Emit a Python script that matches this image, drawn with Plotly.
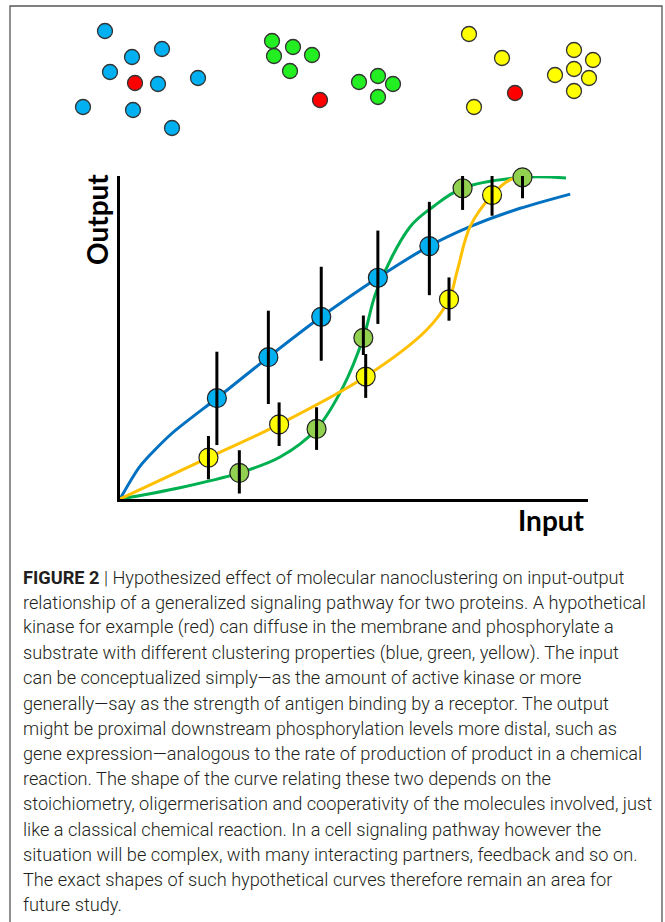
import plotly.graph_objects as go

W, H = 665, 922

# ---------------- data: measured points ----------------
blue_x = [2.07, 3.17, 4.30, 5.51, 6.61]
blue_y = [3.12, 4.39, 5.64, 6.85, 7.83]
blue_err_up = [1.44, 1.44, 1.55, 1.46, 1.37]
blue_err_down = [1.45, 1.45, 1.36, 1.43, 1.52]

green_x = [2.55, 4.20, 5.20, 7.32, 8.60]
green_y = [0.81, 2.17, 4.99, 9.62, 9.96]
green_err_up = [0.70, 0.67, 0.69, 0.69, 0.69]
green_err_down = [0.64, 0.65, 0.53, 0.67, 0.65]

yellow_x = [1.89, 3.40, 5.25, 7.03, 7.95]
yellow_y = [1.28, 2.31, 3.79, 6.18, 9.41]
yellow_err_up = [0.67, 0.68, 0.70, 0.68, 0.70]
yellow_err_down = [0.67, 0.67, 0.66, 0.66, 0.64]

# ---------------- data: fitted curves ----------------
blue_curve_x = [0, 0.43, 1.10, 2.07, 3.17, 4.30, 5.51, 6.61, 7.48, 8.55, 9.62]
blue_curve_y = [0, 1.02, 2.02, 3.12, 4.39, 5.64, 6.85, 7.83, 8.43, 9.00, 9.44]

green_curve_x = [0, 1.28, 2.55, 3.42, 4.20, 4.77, 5.20, 5.49, 6.20, 6.69, 7.32, 8.60, 9.53]
green_curve_y = [0, 0.35, 0.81, 1.30, 2.17, 3.48, 4.99, 6.47, 8.43, 9.05, 9.62, 9.96, 9.94]

yellow_curve_x = [0, 1.89, 3.40, 5.25, 6.55, 7.03, 7.20, 7.48, 7.95, 8.33, 8.90, 9.47]
yellow_curve_y = [0, 1.28, 2.31, 3.79, 5.23, 6.18, 7.03, 8.43, 9.41, 9.88, 10.08, 10.06]

# ---------------- data: schematic molecules (top panel, pixel coords) ----------------
mol_blue_x = [105, 162, 132, 110, 158, 198, 83, 133, 172]
mol_blue_y = [31, 49, 57, 72, 84, 78, 107, 110, 128]
mol_green_x = [272, 293, 274, 312, 290, 359, 378, 393, 378]
mol_green_y = [41, 47, 56, 55, 71, 82, 76, 84, 97]
mol_yellow_x = [469, 502, 474, 574, 593, 555, 574, 589, 574]
mol_yellow_y = [34, 58, 107, 50, 60, 75, 69, 78, 91]
mol_red_x = [135, 320, 515]
mol_red_y = [83, 100, 93]

caption_lines = [
    "<b>FIGURE 2</b> | Hypothesized effect of molecular nanoclustering on input-output",
    "relationship of a generalized signaling pathway for two proteins. A hypothetical",
    "kinase for example (red) can diffuse in the membrane and phosphorylate a",
    "substrate with different clustering properties (blue, green, yellow). The input",
    "can be conceptualized simply\u2014as the amount of active kinase or more",
    "generally\u2014say as the strength of antigen binding by a receptor. The output",
    "might be proximal downstream phosphorylation levels more distal, such as",
    "gene expression\u2014analogous to the rate of production of product in a chemical",
    "reaction. The shape of the curve relating these two depends on the",
    "stoichiometry, oligermerisation and cooperativity of the molecules involved, just",
    "like a classical chemical reaction. In a cell signaling pathway however the",
    "situation will be complex, with many interacting partners, feedback and so on.",
    "The exact shapes of such hypothetical curves therefore remain an area for",
    "future study.",
]

# ---------------- styles ----------------
LINE_BLUE, LINE_GREEN, LINE_YELLOW = "#0070C0", "#00B050", "#FFC000"
MK_BLUE, MK_GREEN, MK_YELLOW = "#00B0F0", "#92D050", "#FFFF00"

fig = go.Figure()

for cx, cy, col, sm in [(blue_curve_x, blue_curve_y, LINE_BLUE, 0.7),
                        (green_curve_x, green_curve_y, LINE_GREEN, 1.0),
                        (yellow_curve_x, yellow_curve_y, LINE_YELLOW, 1.0)]:
    fig.add_trace(go.Scatter(x=cx, y=cy, mode="lines",
                             line=dict(color=col, width=3, shape="spline", smoothing=sm),
                             cliponaxis=False, hoverinfo="skip"))

for px, py, col in [(blue_x, blue_y, MK_BLUE), (green_x, green_y, MK_GREEN),
                    (yellow_x, yellow_y, MK_YELLOW)]:
    fig.add_trace(go.Scatter(x=px, y=py, mode="markers",
                             marker=dict(size=19, color=col, line=dict(color="#222", width=1.2)),
                             cliponaxis=False))

for px, py, up, dn in [(blue_x, blue_y, blue_err_up, blue_err_down),
                       (green_x, green_y, green_err_up, green_err_down),
                       (yellow_x, yellow_y, yellow_err_up, yellow_err_down)]:
    fig.add_trace(go.Scatter(x=px, y=py, mode="markers",
                             marker=dict(size=1, color="rgba(0,0,0,0)"),
                             error_y=dict(type="data", symmetric=False, array=up, arrayminus=dn,
                                          color="black", thickness=3, width=0),
                             cliponaxis=False))

# molecules on overlay axes
for mx, my, col in [(mol_blue_x, mol_blue_y, "#00B0F0"), (mol_green_x, mol_green_y, "#22EE22"),
                    (mol_yellow_x, mol_yellow_y, "#FFFF00"), (mol_red_x, mol_red_y, "#FF0000")]:
    fig.add_trace(go.Scatter(x=mx, y=my, mode="markers", xaxis="x2", yaxis="y2",
                             marker=dict(size=15, color=col, line=dict(color="#333", width=1.3)),
                             cliponaxis=False))

x0, x1 = 120, 588
ytop, ybot = 176, 499
fig.update_layout(
    width=W, height=H, margin=dict(l=0, r=0, t=0, b=0),
    paper_bgcolor="white", plot_bgcolor="rgba(0,0,0,0)", showlegend=False,
    xaxis=dict(domain=[x0 / W, x1 / W], range=[0, 10], showline=True, linecolor="black",
               linewidth=3, showgrid=False, zeroline=False, showticklabels=False, ticks="",
               anchor="y"),
    yaxis=dict(domain=[1 - ybot / H, 1 - ytop / H], range=[0, 10], showline=True,
               linecolor="black", linewidth=3, showgrid=False, zeroline=False,
               showticklabels=False, ticks="", anchor="x"),
    xaxis2=dict(domain=[0, 1], range=[0, W], visible=False, anchor="y2"),
    yaxis2=dict(domain=[0, 1], range=[H, 0], visible=False, anchor="x2"),
)

# frame
fig.add_shape(type="rect", xref="x2", yref="y2", x0=10, x1=662, y0=6, y1=940,
              line=dict(color="#555", width=1.3), fillcolor="rgba(0,0,0,0)")

fig.add_annotation(text="<b>Output</b>", xref="x2", yref="y2", x=97, y=220, showarrow=False,
                   textangle=-90, font=dict(family="Lato", size=28, color="black"))
fig.add_annotation(text="<b>Input</b>", xref="x2", yref="y2", x=551, y=520, showarrow=False,
                   font=dict(family="Lato", size=28, color="black"))

for i, line in enumerate(caption_lines):
    fig.add_annotation(text=line, xref="x2", yref="y2", x=21, y=577 + i * 25.2,
                       xanchor="left", yanchor="middle", showarrow=False,
                       font=dict(family="Roboto", size=18.2, color="#231F20", weight=300))

fig.write_html("out.html", config={"displayModeBar": False, "staticPlot": True},
               post_script="document.body.style.margin='0';document.body.style.overflow='hidden';")
